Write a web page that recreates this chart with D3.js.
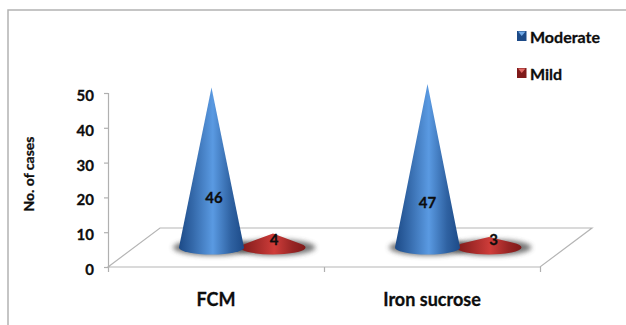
<!DOCTYPE html>
<html>
<head>
<meta charset="utf-8">
<script src="https://cdn.jsdelivr.net/npm/d3@7"></script>
<style>
  html, body { margin: 0; padding: 0; background: #fff; }
  svg { display: block; }
  text { font-family: Lato, "Open Sans", sans-serif; font-weight: 700; fill: #0d0d0d; stroke: #0d0d0d; stroke-width: 0.3px; }
</style>
</head>
<body>
<div id="chart"></div>
<script>
const categories = ['FCM', 'Iron sucrose']
const seriesNames = ['Moderate', 'Mild']
const moderate = [46, 47]
const mild = [4, 3]
const yTicks = [0, 10, 20, 30, 40, 50]

const width = 626
const height = 325
const depthX = 52
const depthY = 39

const svg = d3.select('#chart').append('svg')
  .attr('width', width)
  .attr('height', height)

const y = d3.scaleLinear().domain([0, 50]).range([267, 93])
const x0 = d3.scaleBand().domain(categories).range([108, 540])
const x1 = d3.scalePoint().domain(seriesNames).range([103.5, 165])
const xEdges = d3.scaleLinear().domain([0, categories.length]).range(x0.range())

const shades = {
  Moderate: { edge: '#1c4a87', mid: '#5a9ae2', legendTop: '#6fa8e6' },
  Mild: { edge: '#7f1a1a', mid: '#cf3d3a', legendTop: '#e06a66' }
}

const defs = svg.append('defs')
seriesNames.forEach(name => {
  const grad = defs.append('linearGradient').attr('id', 'cone-' + name)
  grad.append('stop').attr('offset', '0%').attr('stop-color', shades[name].edge)
  grad.append('stop').attr('offset', '22%').attr('stop-color', d3.interpolateRgb(shades[name].edge, shades[name].mid)(0.4))
  grad.append('stop').attr('offset', '52%').attr('stop-color', shades[name].mid)
  grad.append('stop').attr('offset', '80%').attr('stop-color', d3.interpolateRgb(shades[name].edge, shades[name].mid)(0.3))
  grad.append('stop').attr('offset', '100%').attr('stop-color', shades[name].edge)
})
defs.append('filter').attr('id', 'soft')
  .attr('x', '-20%').attr('y', '-60%').attr('width', '140%').attr('height', '220%')
  .append('feGaussianBlur').attr('stdDeviation', 2.6)

// outer frame, only top and left are visible in the source
svg.append('path')
  .attr('d', `M8,${height}V10H${width}`)
  .attr('fill', 'none')
  .attr('stroke', '#b3b3b3')
  .attr('stroke-width', 1.5)

// floor
const [fl, fr] = x0.range()
svg.append('path')
  .attr('d', `M${fl},${y(0)}L${fl + depthX},${y(0) - depthY}L${fr + depthX},${y(0) - depthY}L${fr},${y(0)}Z`)
  .attr('fill', '#fff')
  .attr('stroke', '#b5b5b5')
  .attr('stroke-width', 1.2)

// axes
const yAxis = svg.append('g')
  .attr('transform', `translate(${fl},0)`)
  .call(d3.axisLeft(y).tickValues(yTicks).tickSize(4).tickPadding(10))
yAxis.selectAll('path, line').attr('stroke', '#b0b0b0').attr('stroke-width', 1.2)
yAxis.selectAll('text').style('font-size', '15px').attr('dy', '0.5em')

const xTicks = svg.append('g')
  .attr('transform', `translate(0,${y(0)})`)
  .call(d3.axisBottom(xEdges).ticks(categories.length).tickSize(5).tickFormat(''))
xTicks.select('.domain').remove()
xTicks.selectAll('line').attr('stroke', '#b0b0b0').attr('stroke-width', 1.2)

const xAxis = svg.append('g')
  .attr('transform', `translate(0,${y(0)})`)
  .call(d3.axisBottom(x0).tickSize(0).tickPadding(26))
xAxis.select('.domain').remove()
xAxis.selectAll('text').style('font-size', '18px')

svg.append('text')
  .attr('transform', 'translate(34,174) rotate(-90)')
  .attr('text-anchor', 'middle')
  .style('font-size', '14px')
  .text('No. of cases')

// cones
const rx = 32.5
const ry = 7
const rows = []
categories.forEach((cat, i) => {
  rows.push({ cat, series: 'Mild', value: mild[i] })
  rows.push({ cat, series: 'Moderate', value: moderate[i] })
})
const baseY = y(0) - depthY / 2
const cx = d => x0(d.cat) + x1(d.series)

svg.append('g').selectAll('ellipse')
  .data(rows)
  .join('ellipse')
  .attr('cx', d => cx(d) + 2)
  .attr('cy', baseY)
  .attr('rx', rx + 8)
  .attr('ry', ry + 1)
  .attr('fill', '#4a4a4a')
  .attr('opacity', 0.75)
  .attr('filter', 'url(#soft)')

svg.append('g').selectAll('path')
  .data(rows)
  .join('path')
  .attr('d', d => {
    const apex = y(d.value) - depthY / 2
    const h = baseY - apex
    const c = cx(d)
    // silhouette leaves the base ellipse at its tangent points
    const ty = baseY - ry * ry / h
    const tx = rx * Math.sqrt(1 - (ry * ry) / (h * h))
    return `M${c},${apex}L${c + tx},${ty}A${rx},${ry} 0 1 1 ${c - tx},${ty}Z`
  })
  .attr('fill', d => `url(#cone-${d.series})`)

// data labels sit where the source placed them by hand
const labelNudge = { 'FCM|Moderate': [2.5, 202.5], 'FCM|Mild': [1, 245], 'Iron sucrose|Moderate': [0, 207.5], 'Iron sucrose|Mild': [4.5, 245] }
svg.append('g').selectAll('text')
  .data(rows)
  .join('text')
  .attr('x', d => cx(d) + labelNudge[d.cat + '|' + d.series][0])
  .attr('y', d => labelNudge[d.cat + '|' + d.series][1])
  .attr('text-anchor', 'middle')
  .style('font-size', '15px')
  .text(d => d.value)

// legend
const legendY = d3.scalePoint().domain(seriesNames).range([36, 73])
const legend = svg.append('g').selectAll('g')
  .data(seriesNames)
  .join('g')
  .attr('transform', d => `translate(517,${legendY(d)})`)
legend.append('rect')
  .attr('y', -5).attr('width', 9.5).attr('height', 10)
  .attr('fill', d => shades[d].edge)
legend.append('path')
  .attr('d', 'M1,-4.5H8.5L4.75,0Z')
  .attr('fill', d => shades[d].legendTop)
legend.append('text')
  .attr('x', 13)
  .attr('y', 7)
  .style('font-size', '16px')
  .text(d => d)
</script>
</body>
</html>
